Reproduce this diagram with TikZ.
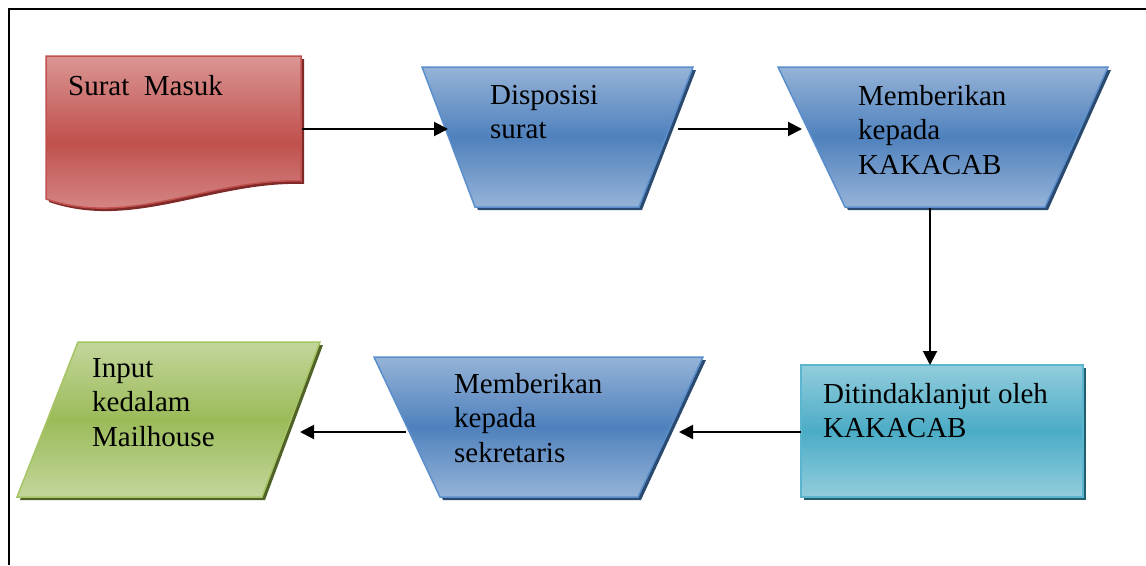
\documentclass[tikz,border=0pt]{standalone}
\usepackage{fontspec}
\setmainfont{Liberation Serif}
\usetikzlibrary{arrows.meta}

\definecolor{redlight}{HTML}{DA9694}
\definecolor{redmid}{HTML}{C0504D}
\definecolor{redline}{HTML}{C0504D}
\definecolor{redshadow}{HTML}{7F2A28}
\definecolor{bluelight}{HTML}{95B3D7}
\definecolor{bluemid}{HTML}{4F81BD}
\definecolor{blueline}{HTML}{5B8ECC}
\definecolor{blueshadow}{HTML}{2A4A70}
\definecolor{teallight}{HTML}{92CDDC}
\definecolor{tealmid}{HTML}{4BACC6}
\definecolor{tealline}{HTML}{5BB5CE}
\definecolor{tealshadow}{HTML}{235E6E}
\definecolor{greenlight}{HTML}{C3D69B}
\definecolor{greenmid}{HTML}{9BBB59}
\definecolor{greenline}{HTML}{A6C464}
\definecolor{greenshadow}{HTML}{4F6228}

\begin{document}
\begin{tikzpicture}[x=1pt,y=-1pt,
  frame/.style={line width=2pt,black},
  flow/.style={line width=2pt,-{Triangle[length=14pt,width=14pt]}},
  shadowed/.style={shift={(3,3)}},
  redbox/.style={draw=redline,line width=1.5pt,top color=redlight,bottom color=redlight,middle color=redmid},
  bluebox/.style={draw=blueline,line width=1.5pt,top color=bluelight,bottom color=bluelight,middle color=bluemid},
  tealbox/.style={draw=tealline,line width=1.5pt,top color=teallight,bottom color=teallight,middle color=tealmid},
  greenbox/.style={draw=greenline,line width=1.5pt,top color=greenlight,bottom color=greenlight,middle color=greenmid},
  label/.style={anchor=north west,inner sep=0pt,align=left,text=black,
    font=\fontsize{29}{34.5}\selectfont}]
\useasboundingbox (0,0) rectangle (1146,565);

% page frame (top and left edges)
\draw[frame] (8.5,565) -- (8.5,8.5) -- (1146,8.5);

% incoming letter (document shape)
\fill[redshadow,shadowed] (46,56) -- (301,56) -- (301,181)
  .. controls (210,178) and (130,228) .. (46,199) -- cycle;
\path[redbox] (46,56) -- (301,56) -- (301,181)
  .. controls (210,178) and (130,228) .. (46,199) -- cycle;
\node[label] (surat) at (68,75) {Surat~~Masuk};

% disposition (manual operation)
\fill[blueshadow,shadowed] (422,67) -- (693,67) -- (639,207) -- (475,207) -- cycle;
\path[bluebox] (422,67) -- (693,67) -- (639,207) -- (475,207) -- cycle;
\node[label] (disposisi) at (490,85) {Disposisi\\surat};

% hand over to KAKACAB
\fill[blueshadow,shadowed] (778,67) -- (1108,67) -- (1045,207) -- (845,207) -- cycle;
\path[bluebox] (778,67) -- (1108,67) -- (1045,207) -- (845,207) -- cycle;
\node[label] (kakacab) at (858,85) {Memberikan\\kepada\\KAKACAB};

% follow-up process
\fill[tealshadow,shadowed] (801,365) rectangle (1083,497);
\path[tealbox] (801,365) rectangle (1083,497);
\node[label] (tindak) at (823,383) {Ditindaklanjut oleh\\KAKACAB};

% hand over to secretary
\fill[blueshadow,shadowed] (374,357) -- (703,357) -- (638,497) -- (440,497) -- cycle;
\path[bluebox] (374,357) -- (703,357) -- (638,497) -- (440,497) -- cycle;
\node[label] (sekretaris) at (454,373) {Memberikan\\kepada\\sekretaris};

% data input
\fill[greenshadow,shadowed] (78,342) -- (320,342) -- (262,497) -- (17,497) -- cycle;
\path[greenbox] (78,342) -- (320,342) -- (262,497) -- (17,497) -- cycle;
\node[label] (input) at (92,358) {Input\\kedalam\\Mailhouse};

% connector ports on the shape outlines
\coordinate (surat-e) at (302,129);
\coordinate (disposisi-w) at (448,129);
\coordinate (disposisi-e) at (678,129);
\coordinate (kakacab-w) at (802,129);
\coordinate (kakacab-s) at (930,208);
\coordinate (tindak-n) at (930,365);
\coordinate (tindak-w) at (801,432);
\coordinate (sekretaris-e) at (679,432);
\coordinate (sekretaris-w) at (406,432);
\coordinate (input-e) at (300,432);

\draw[flow] (surat-e) -- (disposisi-w);
\draw[flow] (disposisi-e) -- (kakacab-w);
\draw[flow] (kakacab-s) -- (tindak-n);
\draw[flow] (tindak-w) -- (sekretaris-e);
\draw[flow] (sekretaris-w) -- (input-e);
\end{tikzpicture}
\end{document}
